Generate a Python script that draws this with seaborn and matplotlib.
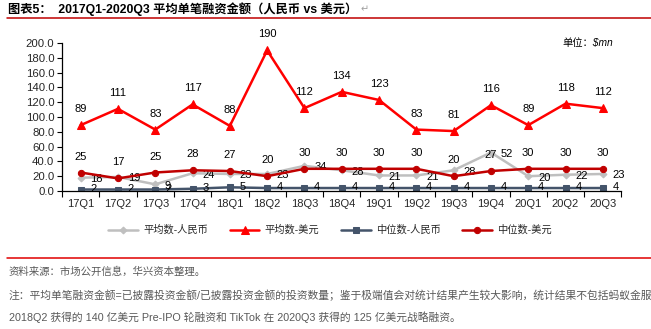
import matplotlib
matplotlib.use("Agg")
import matplotlib.pyplot as plt
import seaborn as sns
import pandas as pd

quarters = ["17Q1", "17Q2", "17Q3", "17Q4", "18Q1", "18Q2", "18Q3", "18Q4",
            "19Q1", "19Q2", "19Q3", "19Q4", "20Q1", "20Q2", "20Q3"]
avg_rmb = [18, 19, 9, 24, 23, 23, 34, 28, 21, 21, 28, 52, 20, 22, 23]
avg_usd = [89, 111, 83, 117, 88, 190, 112, 134, 123, 83, 81, 116, 89, 118, 112]
med_rmb = [2, 2, 2, 3, 5, 4, 4, 4, 4, 4, 4, 4, 4, 4, 4]
med_usd = [25, 17, 25, 28, 27, 20, 30, 30, 30, 30, 20, 27, 30, 30, 30]
series_names = ["平均数-人民币", "平均数-美元", "中位数-人民币", "中位数-美元"]
yticks = [0, 20, 40, 60, 80, 100, 120, 140, 160, 180, 200]

sns.set_theme(style="white")
plt.rcParams["font.family"] = ["Liberation Sans", "Noto Sans CJK SC", "DejaVu Sans"]

fig = plt.figure(figsize=(6.51, 3.29), dpi=100)
ax = fig.add_axes([62 / 651, 1 - 191 / 329, (621.5 - 62) / 651, (191 - 43) / 329])

df = pd.DataFrame({"quarter": quarters, "avg_rmb": avg_rmb, "avg_usd": avg_usd,
                   "med_rmb": med_rmb, "med_usd": med_usd})

styles = [
    ("avg_rmb", "#BFBFBF", "D", 3.5, 2),
    ("avg_usd", "#FF0000", "^", 5.5, 3),
    ("med_rmb", "#44546A", "s", 4.5, 2),
    ("med_usd", "#C00000", "o", 4.5, 4),
]
for (col, color, marker, ms, z), name in zip(styles, series_names):
    sns.lineplot(data=df, x="quarter", y=col, ax=ax, color=color, marker=marker,
                 markersize=ms, markeredgecolor=color, linewidth=1.8, sort=False,
                 label=name, zorder=z)

num_fs = 8
for i, v in enumerate(avg_usd):
    ax.annotate(f"{v}", (i, v), xytext=(0, 11.5), textcoords="offset points",
                ha="center", va="center", fontsize=num_fs, color="black")
for i, v in enumerate(med_usd):
    ax.annotate(f"{v}", (i, v), xytext=(0, 11.5), textcoords="offset points",
                ha="center", va="center", fontsize=num_fs, color="black")
for i, v in enumerate(avg_rmb):
    ax.annotate(f"{v}", (i, v), xytext=(7, -1), textcoords="offset points",
                ha="left", va="center", fontsize=num_fs, color="black")
for i, v in enumerate(med_rmb):
    ax.annotate(f"{v}", (i, v), xytext=(7, 0.5), textcoords="offset points",
                ha="left", va="center", fontsize=num_fs, color="black")

ax.set_xlim(-0.5, len(quarters) - 0.5)
ax.set_ylim(0, 200)
ax.set_yticks(yticks)
ax.set_yticklabels([f"{t:.1f}" for t in yticks], fontsize=8.2)
ax.set_xticks(range(len(quarters)))
ax.set_xticklabels(quarters, fontsize=8)
ax.tick_params(axis="x", length=0, pad=6)
ax.set_xticks([i - 0.5 for i in range(len(quarters) + 1)], minor=True)
ax.tick_params(axis="x", which="minor", length=4, width=0.8, color="black", direction="out", bottom=True)
ax.tick_params(axis="y", length=3.5, width=0.8, color="black", direction="out", left=True, pad=2)
ax.set_xlabel("")
ax.set_ylabel("")
for s in ["top", "right"]:
    ax.spines[s].set_visible(False)
for s in ["left", "bottom"]:
    ax.spines[s].set_color("black")
    ax.spines[s].set_linewidth(0.9)
ax.grid(False)
ax.get_legend().remove()

handles, labels = ax.get_legend_handles_labels()
fig.legend(handles, labels, loc="center", bbox_to_anchor=(330 / 651, 1 - 230 / 329),
           ncol=4, frameon=False, fontsize=7.4, handlelength=2.9, handletextpad=0.5,
           columnspacing=2.1)

# unit label
fig.text(562 / 651, 1 - 43 / 329, "单位：$mn", fontsize=7.4, style="italic",
         ha="left", va="center", color="black")

# title and rules
title = fig.text(8 / 651, 1 - 9 / 329, "图表5：  2017Q1-2020Q3 平均单笔融资金额（人民币 vs 美元）",
                 fontsize=8.8, fontweight="bold", ha="left", va="center", color="black")
fig.canvas.draw()
bb = title.get_window_extent(renderer=fig.canvas.get_renderer())
fig.text((bb.x1 + 3) / 651, 1 - 9 / 329, "↵", fontsize=7, ha="left", va="center",
         color="#A0A0A0", family=["DejaVu Sans"])
fig.add_artist(plt.Line2D([7 / 651, 1], [1 - 17.5 / 329] * 2, color="#C00000", linewidth=1.1))
fig.add_artist(plt.Line2D([7 / 651, 1], [1 - 258 / 329] * 2, color="#E00000", linewidth=1.1))

note_color = "#595959"
fig.text(9 / 651, 1 - 272 / 329, "资料来源：市场公开信息，华兴资本整理。", fontsize=7.5,
         ha="left", va="center", color=note_color)
fig.text(9 / 651, 1 - 295 / 329,
         "注：平均单笔融资金额=已披露投资金额/已披露投资金额的投资数量；鉴于极端值会对统计结果产生较大影响，统计结果不包括蚂蚁金服",
         fontsize=7.75, ha="left", va="center", color=note_color)
fig.text(9 / 651, 1 - 317 / 329,
         "2018Q2 获得的 140 亿美元 Pre-IPO 轮融资和 TikTok 在 2020Q3 获得的 125 亿美元战略融资。",
         fontsize=7.75, ha="left", va="center", color=note_color)

fig.savefig("out.png", dpi=100)
